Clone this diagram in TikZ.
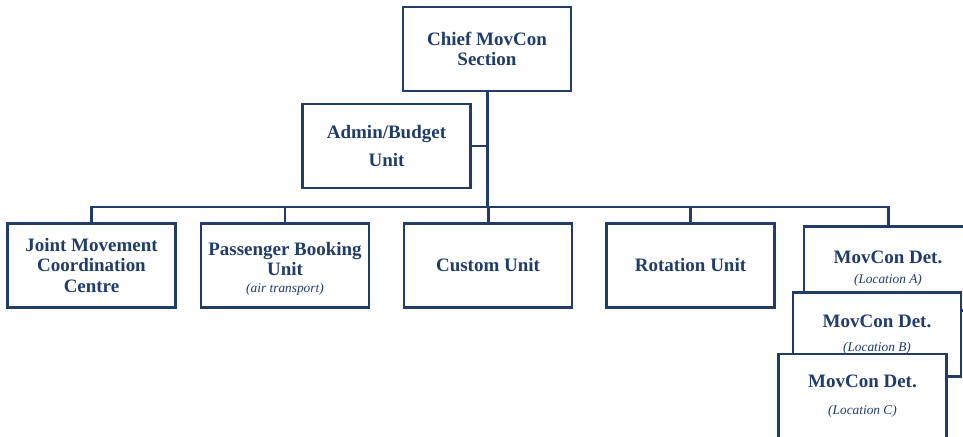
\documentclass[tikz,border=0pt]{standalone}
\usepackage{fontspec}
\setmainfont{Liberation Serif}
\definecolor{orgblue}{RGB}{33,60,106}
\tikzset{
  unit/.style={draw=orgblue, line width=1.6pt, fill=white, text=orgblue,
    minimum width=3.36cm, minimum height=1.68cm, inner sep=0pt, align=center,
    font=\fontsize{10.8}{11.6}\selectfont\bfseries},
  link/.style={draw=orgblue, line width=1.7pt}
}
% small italic note under a unit name
\newcommand{\unitnote}[1]{{\fontsize{7.6}{9}\selectfont\mdseries\itshape(#1)}}
\begin{document}
\begin{tikzpicture}[x=0.02cm,y=-0.02cm]
  \useasboundingbox (0,0) rectangle (963,436);
  \clip (0,0) rectangle (963,436);
  \draw
    (487,49) node[unit] (chief){Chief MovCon\\Section}
    (386.5,146) node[unit] (admin){Admin/Budget\\[4pt]Unit}
    (91.5,265.5) node[unit] (jmcc){Joint Movement\\Coordination\\Centre}
    (285,265.5) node[unit] (pbu){\rule{0pt}{11pt}Passenger Booking\\Unit\\[-2pt]\unitnote{air transport}}
    (488,265.5) node[unit] (custom){Custom Unit}
    (690.5,265.5) node[unit] (rotation){Rotation Unit};
  \coordinate (trunk) at (487,207);
  \begin{scope}[link]
    \draw (chief.south) -- (trunk);
    \draw (admin.east) -- (admin.east -| trunk);
    \draw (jmcc.north) |- (trunk) -| (888,225) coordinate (dropA);
    \draw (pbu.north) -- (pbu.north |- trunk);
    \draw (custom.north) -- (custom.north |- trunk);
    \draw (rotation.north) -- (rotation.north |- trunk);
  \end{scope}
  % detachments, stacked one over the other
  \draw
    (dropA) node[unit, anchor=north] (detA){MovCon Det.\\[0pt]\unitnote{Location A}}
    (877,334.5) node[unit] (detB){MovCon Det.\\[2pt]\unitnote{Location B}}
    (862.5,396) node[unit] (detC){MovCon Det.\\[4pt]\unitnote{Location C}};
\end{tikzpicture}
\end{document}
